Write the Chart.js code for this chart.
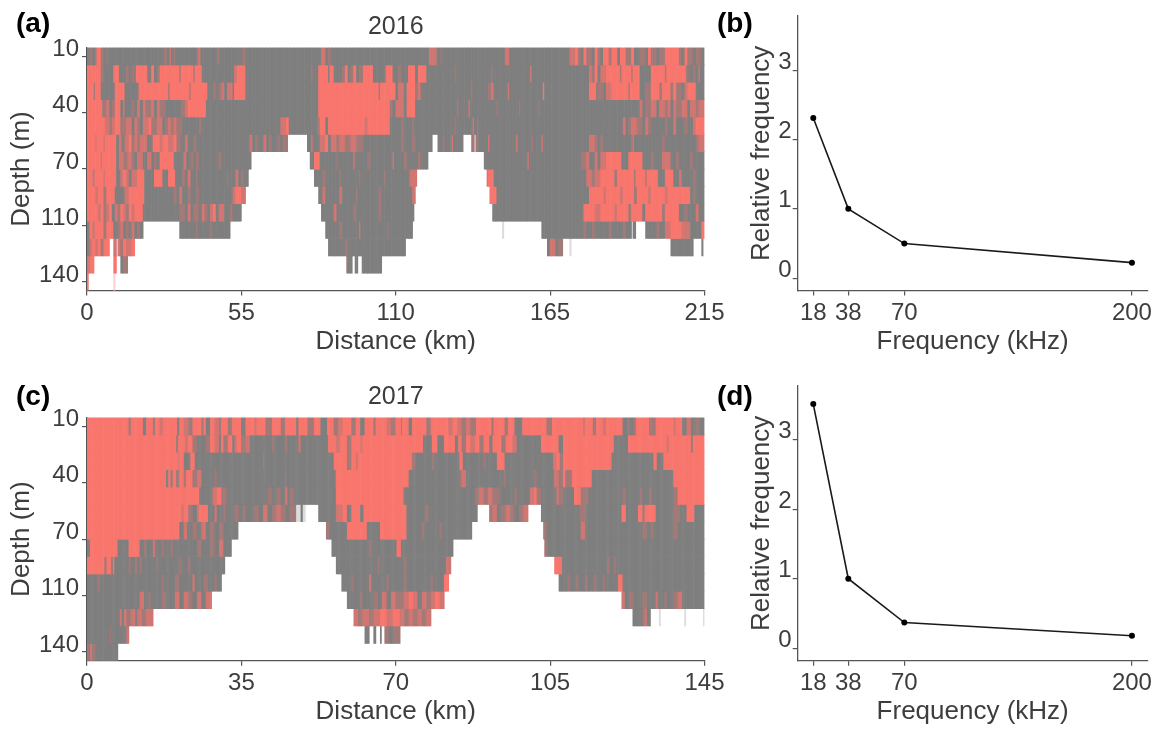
<!DOCTYPE html>
<html><head><meta charset="utf-8">
<script src="https://cdn.jsdelivr.net/npm/chart.js@4/dist/chart.umd.js"></script>
<style>
html,body{margin:0;padding:0;background:#fff;width:1162px;height:731px;overflow:hidden}
canvas{position:absolute;display:block;filter:blur(0.35px)}
.tag{position:absolute;font:bold 28px "Liberation Sans",Arial,sans-serif;color:#000;line-height:32px}
</style></head><body>
<canvas id="pa" width="745" height="365" style="left:0;top:0;width:745px;height:365px"></canvas>
<canvas id="pb" width="442" height="365" style="left:720px;top:0;width:442px;height:365px"></canvas>
<canvas id="pc" width="745" height="361" style="left:0;top:370px;width:745px;height:361px"></canvas>
<canvas id="pd" width="442" height="361" style="left:720px;top:370px;width:442px;height:361px"></canvas>
<div class="tag" style="left:16px;top:7px">(a)</div>
<div class="tag" style="left:717px;top:7px">(b)</div>
<div class="tag" style="left:16px;top:380px">(c)</div>
<div class="tag" style="left:717px;top:380px">(d)</div>
<script>
// Class codes for echogram cells
const G=0,M=1,H=2,R=3,N=4,K=5,P=6;
const classColours=['#7f7f7f','#a27a78','#d27672','#f8766d',null,'#dcdcdc','#f9d3d0'];

// Each row: [start distance, class, start distance, class, ...]
const a00=[0,G,1,M,2,G,3,M,3.5,R,5,M,6,G,7,M,7.5,G,27.5,M,28.5,G,29.5,H,30,G,31,M,31.5,G,39.5,H,40.5,G,46.5,M,47.5,G,55.5,M,56.5,G,83.5,H,85,G,86,M,87,G,122,H,124.5,M,125,G,126,M,126.5,G,149,H,150.5,G,172,H,174,R,175,M,176,G,177,R,178,M,180,G,181,R,182,M,183,G,184,R,186,M,187,R,189,G,190,R,192,M,194,R,195,G,197,M,199,G,200,R,201,M,203,G,204,M,206,R,211,M,212,G,213,R,214,M,216,G,217,M,219,G,220,N];
const a01=[0,R,5,M,6,G,9.5,R,11.5,G,14,M,15,G,16,M,17,G,17.7,R,21.3,M,22,G,23,R,24,G,25,M,26,R,33,M,33.5,R,38,M,38.5,R,41,G,52.7,H,53.5,R,56.5,G,80,M,80.5,G,82.4,R,86,G,86.5,R,88,G,91,M,92,R,93,G,94,M,95,R,96,G,97,M,98.5,R,102,G,106.5,R,109,G,111,M,112,G,114.5,R,117,G,118,R,121,G,131,M,131.5,G,144,M,144.5,G,158,H,158.5,G,179,H,180,M,181,R,182,G,183,H,185,R,190,M,190.5,R,194,M,194.5,R,197,G,201,R,206,M,206.5,R,213.7,M,214.5,G,216,M,217,G,218,H,218.5,G,220,N];
const a02=[0,R,2.5,M,3,R,5,G,10,R,13.5,G,18.3,R,29,M,29.5,R,36.5,M,37,R,43.2,G,45,M,46,G,46.8,M,48,H,49,G,50,H,52,G,52.5,R,56.3,G,82.4,R,103.8,M,104.3,R,109.8,G,111,H,113,G,114,R,117,M,118,H,119,G,137,M,137.5,G,143,M,144,H,145,G,150,H,150.5,G,162.3,R,162.8,G,179,R,181.3,G,182,M,184,G,185,H,187,R,193,M,193.5,R,197,G,199,M,201,R,204,M,205,R,208,M,209,R,210,M,212,G,213,H,214,R,217,G,220,N];
const a03=[0,R,5.6,M,7,H,8,G,9,M,10,R,11.8,G,13,H,13.5,G,16,M,17,G,18,H,19,G,20,H,21,M,23,H,24,G,25,H,26,M,28,G,33.7,M,35,H,36,R,42.6,G,82.4,R,108,M,109,G,110,H,113,G,114,R,117,G,132,M,132.5,G,136,H,136.5,G,146,M,146.5,G,154,M,154.5,G,161,M,161.5,G,197,H,198,G,199,M,201,H,203,G,204,H,206,M,207,H,208,G,209,H,210,M,212,H,214,G,215,H,217,M,218,H,220,N];
const a04=[0,R,6.4,H,8,M,9,H,10,R,12,M,14,H,16,G,17,H,18,M,19,G,20,H,22,R,23,M,25,H,27,G,28,M,29,H,30,M,31,H,32,M,34,G,40,M,41,G,69,H,71,R,72,G,82,M,83,R,85,G,86,R,99,H,100,R,108,G,112,M,113,G,116,M,116.5,G,131,M,131.5,G,137.5,H,138,G,139,M,139.5,G,191,H,192,G,193,M,194,H,196,M,198,G,199,H,200,M,201,G,206,M,207,G,209,H,210,G,213,M,214,G,216,H,217,R,220,N];
const a05=[0,R,3,H,3.5,R,6,H,6.5,R,10.6,G,11.5,H,12.5,G,13.5,H,15,R,16,M,17,H,18,M,19,H,21.3,G,23.6,R,26,H,27,R,29,H,31,R,32,M,33.7,G,35,H,36,G,38,M,39,G,58,H,59,G,60,M,61,G,63,H,64,G,65,M,66,G,68,M,69,G,70,M,71.7,N,78.3,G,80,H,80.5,G,83,H,85,R,86,G,87,H,89,M,90,H,92,M,94,H,96,M,98.5,G,112,M,113,G,116,M,117,G,123,N,124.8,G,127,M,127.5,G,130,H,130.5,G,133.9,N,137,M,138,N,138.5,M,139.5,G,143,H,143.5,G,153,H,153.5,G,158.5,M,159,G,162,H,162.5,G,179,H,181,M,182,G,183,M,184,G,194,M,194.5,H,195,G,205,M,206,G,217,M,218,H,220,N];
const a06=[0,R,5,H,5.5,R,10.6,G,11.5,H,13,M,14.5,H,16,M,17,G,18,H,20,G,21.3,H,23,G,24,M,25,G,26,R,31,G,34.5,H,35.5,G,37,M,38,G,39,M,40,G,47,M,48,G,58.7,N,79.5,G,81,R,83,G,89,M,89.5,G,95,H,95.5,G,100,M,101,G,109,H,109.5,G,113,M,114,G,118,M,119,G,121.5,N,141.4,G,157,H,157.5,G,176,M,178,H,179,G,181,H,182,G,183,H,185,R,190.4,G,193,R,198,G,201,M,202,G,205,H,208,G,210,M,211,G,215,M,216,G,220,N];
const a07=[0,R,2,H,3,R,6,H,6.5,R,10.6,G,12,H,13,R,14,H,15,G,16,H,18,R,20.7,G,24.2,R,27.2,G,29,R,31.4,G,34,M,35,G,36,H,37,G,39,M,39.7,G,49.8,M,50.5,G,53,H,54,G,55,M,56,G,57.5,N,81.2,G,84,M,85,G,90,M,90.5,G,97,M,97.5,G,106,M,106.5,G,115,H,117.7,N,142.6,H,143,R,145,G,178,H,180,M,181,H,183,R,188,M,189,R,195,M,195.5,R,199,M,199.5,R,203.6,G,206,R,209,G,211,H,212,G,216,M,217,G,220,N];
const a08=[0,R,3,H,4,R,6,M,7,R,10,G,13.5,H,15,R,20.7,G,31,M,32,G,33,H,34,G,36,M,37,G,39,M,40,G,52,H,53,R,55,H,56.3,N,82.4,G,84,H,85,G,90,H,91,G,96,M,96.5,G,104,M,105,G,116,H,117.2,N,143.6,R,146,G,179,R,184,H,185,R,190,H,191,R,195,M,196,R,200,H,201,R,206,H,207,R,214.8,G,216,M,217,G,220,N];
const a09=[0,R,4,H,5,R,6,M,7,H,8,R,9,G,10,H,11,M,12,R,13,H,14,M,15,R,16,H,17,R,20,G,33,M,35,G,36,H,37,G,38,M,40,G,41,H,42,M,43,G,44,H,45,R,46,G,47,H,49,G,51,M,52,G,55,N,83.6,G,88,H,89,G,95,M,96,G,104,M,105,G,116.5,N,144.4,G,177,R,181,H,183,R,188,H,189,R,193,M,194,R,198,G,199,R,205,M,206,R,211,G,213,M,214,G,217,H,218,G,220,N];
const a10=[0,G,1,R,2,H,3,R,6,M,7,R,9.4,G,11,M,12,H,13,G,14,M,15,G,16,H,17,G,18,M,19,G,20,N,33,G,39,M,39.5,G,44,M,44.5,G,51,N,84.8,G,90,M,91,G,97,H,97.5,G,107,M,107.5,G,116,N,148,K,148.5,N,161.9,G,176.9,M,178,G,180,M,181,G,186,M,187,G,191,M,192,G,194,N,194.5,G,195.5,N,199,G,203,M,204,G,206,H,208,R,212,H,214.8,G,219,R,220,N];
const a11=[0,G,1,H,2,R,3,H,4,R,5,M,6,R,8,N,9.4,H,10.5,N,11,H,12,M,13,R,14,H,16,R,17,N,86,G,92,M,93,G,113.7,N,164,G,165,H,167,G,168,M,169.7,N,172,K,172.5,N,208,G,216,N,219,G,219.5,N,220,N];
const a12=[0,H,1,R,2.3,N,9.4,R,10.6,N,12,G,13,M,14.7,N,92.3,M,93,G,94.3,N,95.5,G,96.3,N,97.9,G,105,N,220,N];
const a13=[0,R,0.5,N,9.5,P,10,N,220,N];

const c00=[0,R,9.4,M,9.9,R,12.8,G,13.6,R,15,M,15.5,R,16.5,H,17.2,R,20.5,G,21,R,22,H,23,M,24,R,26,M,26.5,R,27,G,28,R,29,H,30,M,30.5,R,32,M,33,R,35,G,36,R,38,H,38.5,R,40.5,M,42,R,44,M,45,R,47.5,G,48,R,50,M,51.5,R,53,G,54.5,R,56,M,57,H,58,R,60,M,61,R,62,G,63,R,65,M,65.5,R,68,H,69,M,70,R,71.2,M,71.6,R,73,G,73.8,R,77,M,78,R,82,H,83,R,84,H,85,M,86,H,87,M,88.3,R,91.8,M,92.3,R,94.8,M,95.5,R,96.9,G,98.8,R,104.2,M,105.5,R,112.5,H,113,R,114.8,M,115.6,R,117,H,117.8,R,121.6,G,122.5,M,123,G,124,M,124.6,R,127.5,M,129,R,133,H,133.5,R,135,G,136,H,137,G,138,M,139,G,140,N];
const c01=[0,R,20.3,M,20.7,R,22.3,H,23,R,24,M,25,G,27,M,28,R,29,H,30,G,30.5,R,31,M,32,R,33,G,33.5,H,34,R,35,M,36,H,37,G,42,M,42.5,G,45,M,45.5,G,48,H,48.5,G,54.7,R,56.6,H,57.5,R,59,M,60,R,62,H,62.5,R,76.3,G,78.3,R,79.4,G,81.1,R,83.4,G,84.2,R,85,M,86,R,87,H,88,R,89,M,90,R,91.3,G,92,R,94,M,95,R,96.6,H,97.5,G,103,R,106.9,G,108,R,119.4,G,122.7,R,131.5,H,132,R,137,M,137.5,R,140,N];
const c02=[0,R,20.7,H,21,R,22,G,23.4,R,24.5,G,40,M,40.3,G,55.9,R,58.9,M,60,R,61,H,61.5,R,73.8,M,74.5,G,78.3,M,78.7,G,84.5,R,85.3,G,90,M,90.5,G,92.9,R,94.8,G,105.7,H,106.5,R,107.3,M,108,R,119,G,128.4,R,129.2,G,130.7,R,140,N];
const c03=[0,R,18,G,18.4,R,19,M,19.6,R,20.3,M,21,R,22,M,22.5,R,24,M,25,H,26,G,29,M,29.5,G,45,M,45.3,G,56.2,M,56.6,R,73,G,84.5,M,85,H,86,G,94.4,M,95,G,101.5,M,102,G,106,H,107,M,108,R,108.5,M,110,R,114.4,G,133,R,140,N];
const c04=[0,R,25.6,G,28.6,H,29.5,R,30.5,M,31.7,G,41,M,42,G,43,M,44,G,45,H,45.5,G,46,M,47,G,56.6,R,71.7,M,72,G,88,M,89,H,90,M,91,H,92,M,93.6,G,97,M,97.4,G,100.5,H,101.5,R,102,M,103.1,G,106.5,H,107,M,108,G,110.6,R,112.1,M,113.7,G,121.6,M,122.3,G,125.5,M,126,G,127.5,M,127.9,G,133,M,134,R,140,N];
const c05=[0,R,21.5,H,22,R,23,M,24,G,24.9,H,25.5,R,27.5,G,29,H,29.5,G,31,M,31.5,G,33.6,M,34.5,G,35.5,M,36,G,38,M,39,G,40,H,41,G,42,M,43,H,44,M,45,G,46,M,47.5,K,48.5,G,49,K,49.4,N,52.5,G,56.6,H,58,R,59,G,60,R,62,G,62.7,R,72.4,G,76.8,M,77.4,G,88.6,N,91.3,M,92,H,93,G,94,M,95,H,96,M,97,G,98,M,99,H,100,N,103.1,G,111.7,M,113.3,G,121.2,R,122.3,G,125,R,126,M,126.5,R,129.1,G,133,M,134.5,G,135.9,R,137.8,G,140,N];
const c06=[0,R,21,G,22,H,22.7,G,24,M,25,G,26,H,27,G,28,M,29,G,30,M,31,G,34.3,N,54.3,M,55,G,59,R,63.4,G,66.4,R,72.4,G,76,M,76.5,G,80,M,80.5,G,87.2,N,103.5,M,104.3,G,112,H,113,G,126,M,127,G,128,M,128.5,G,133,M,134,G,140,N];
const c07=[0,G,0.7,R,7.1,G,9.5,R,12,G,13,M,13.5,G,15,H,15.5,G,17,M,17.5,G,19,M,19.6,G,25,M,26,G,28,M,29,G,30,H,31,G,32.8,N,55.5,G,64,M,64.5,G,70.2,R,71.3,G,83,N,103.8,M,104.5,G,140,N];
const c08=[0,R,4,M,4.4,R,5.5,M,6,R,6.3,G,9.4,M,10,G,11,M,11.5,G,12,M,12.5,G,16,M,16.3,G,21,M,21.5,G,23,M,23.5,G,31.3,N,56.6,G,66,M,66.5,G,72,M,72.4,G,81.5,H,82.6,N,106,R,107.8,G,118,M,118.5,G,119.5,M,120,G,140,N];
const c09=[0,G,2.5,M,3,G,17,M,17.5,G,20,M,21,G,24,H,24.5,G,26.5,M,27.5,G,29,M,29.5,G,30.5,N,57.7,G,60,M,60.5,G,64,H,64.5,G,68,M,68.5,G,72,M,72.5,G,78,M,78.5,G,81,R,82,N,107,G,109,M,109.4,G,111,M,111.4,G,113,M,113.4,G,115,M,115.4,G,117,M,117.4,G,120.5,R,121.6,G,140,N];
const c10=[0,G,12,H,13,G,14,M,14.5,G,17,M,18,G,20,H,21,G,22,H,23,M,24,G,25,H,26,G,27,H,28.3,N,58.9,G,62,M,62.5,G,65,M,66,G,67,H,68,G,69,H,70,M,72,H,73,R,74,H,75,G,76,H,77,M,78,H,79,R,80,H,81.1,N,121.2,H,122,G,123,M,124,G,126,M,127,G,129,H,129.5,G,131,M,131.5,G,133,M,134,H,135,G,140,N];
const c11=[0,G,7.5,H,8,G,8.5,H,9,M,10,H,11,G,11.5,H,12.5,M,13.5,H,15,N,60.5,H,61.5,M,62.5,H,64,M,65,H,66.5,R,68,H,69.5,R,71,H,72,M,73,H,74,M,75,H,76,M,77,H,78,N,123.8,G,126,M,126.5,H,127,G,127.8,N,129.7,K,130,N,135.5,K,135.8,N,139.7,K,140,N];
const c12=[0,G,5.2,M,5.6,G,9,H,9.5,N,63,G,64,N,64.9,G,65.5,N,66.4,G,66.8,N,67.5,M,68.5,G,69.5,M,70.9,N,140,N];
const c13=[0,M,0.4,G,0.8,H,1.2,G,1.5,M,2,G,6.9,N,140,N];

const rowsA=[a00,a01,a02,a03,a04,a05,a06,a07,a08,a09,a10,a11,a12,a13];
const rowsC=[c00,c01,c02,c03,c04,c05,c06,c07,c08,c09,c10,c11,c12,c13];

const depthTickPos=[0.5,3.75,7,10.25,13.5];
const depthLabels=['10','40','70','110','140'];
const distTicksA=[0,55,110,165,220];
const distLabelsA=['0','55','110','165','215'];
const distTicksC=[0,35,70,105,140];
const distLabelsC=['0','35','70','105','145'];

const freq=[18,38,70,200];
const relB=[2.31,1.0,0.5,0.225];
const relD=[3.51,1.0,0.37,0.18];
const relTicks=[0,1,2,3];

const FF='"Liberation Sans",Arial,sans-serif';
const TXT='#3d3d3d',AX='#555555';
const TICKF=24,TITLEF=26;
Chart.defaults.font.family=FF;
Chart.defaults.animation=false;

function expand(row,r,bin,total){
  const data=[],bg=[];
  let j=0;
  for(let c=bin/2;c<total;c+=bin){
    while(j+2<row.length&&row[j+2]<=c)j+=2;
    const col=classColours[row[j+1]];
    if(col){data.push({x:c,y:[r,r+1]});bg.push(col);}
  }
  return {data,backgroundColor:bg,borderWidth:0,grouped:false,barPercentage:1,categoryPercentage:1};
}
function axis(opts){
  return Object.assign({
    border:{display:true,color:AX,width:1.3},
    grid:{display:true,offset:false,drawOnChartArea:false,drawTicks:true,tickLength:5,color:AX,lineWidth:1.2},
  },opts);
}
function fixedTicks(vals,labs,fs,extra){
  return {
    afterBuildTicks:s=>{s.ticks=vals.map(v=>({value:v}));},
    ticks:Object.assign({autoSkip:false,maxRotation:0,minRotation:0,padding:3,color:TXT,font:{size:fs},
      callback:v=>labs[vals.indexOf(v)]},extra||{})
  };
}
function fitX(s){s.height=67;s.paddingLeft=0;s.paddingRight=0;}
function echogram(id,rows,bin,total,ticks,labels,year,padBottom){
  const ds=rows.map((row,r)=>expand(row,r,bin,total));
  new Chart(document.getElementById(id),{
    type:'bar',
    data:{datasets:ds},
    options:{
      responsive:false,animation:false,
      layout:{padding:{left:6,right:40.5,top:0,bottom:padBottom}},
      plugins:{legend:{display:false},tooltip:{enabled:false},
        title:{display:true,text:year,fullSize:false,color:TXT,font:{size:25,weight:'normal'},padding:{top:12,bottom:5.5}}},
      scales:{
        x:axis(Object.assign({type:'linear',offset:false,min:0,max:total,stacked:false,
          title:{display:true,text:'Distance (km)',color:TXT,font:{size:TITLEF},padding:0},
          afterFit:fitX},fixedTicks(ticks,labels,TICKF))),
        y:axis(Object.assign({type:'linear',reverse:true,min:0,max:14,
          title:{display:true,text:'Depth (m)',color:TXT,font:{size:TITLEF},padding:0},
          afterFit:s=>{s.width=81;s.paddingTop=0;s.paddingBottom=0;}},fixedTicks(depthTickPos,depthLabels,TICKF,{labelOffset:-7})))
      }
    }
  });
}
function freqChart(id,vals,yMin,yMax,padBottom){
  new Chart(document.getElementById(id),{
    type:'line',
    data:{datasets:[{data:freq.map((f,i)=>({x:f,y:vals[i]})),borderColor:'#1a1a1a',backgroundColor:'#000',
      borderWidth:1.6,pointRadius:3,pointBackgroundColor:'#000',pointBorderWidth:0,tension:0}]},
    options:{
      responsive:false,animation:false,
      layout:{padding:{left:26,right:14.3,top:16,bottom:padBottom}},
      plugins:{legend:{display:false},tooltip:{enabled:false},title:{display:false}},
      scales:{
        x:axis(Object.assign({type:'linear',min:9.1,max:209,
          title:{display:true,text:'Frequency (kHz)',color:TXT,font:{size:TITLEF},padding:0},
          afterFit:fitX},fixedTicks(freq,freq.map(String),TICKF))),
        y:axis(Object.assign({type:'linear',min:yMin,max:yMax,
          title:{display:true,text:'Relative frequency',color:TXT,font:{size:TITLEF},padding:0},
          afterFit:s=>{s.width=51.7;s.paddingTop=0;s.paddingBottom=0;}},fixedTicks(relTicks,relTicks.map(String),TICKF,{labelOffset:-8,padding:1})))
      }
    }
  });
}
echogram('pa',rowsA,0.5,220,distTicksA,distLabelsA,'2016',7.4);
echogram('pc',rowsC,0.25,140,distTicksC,distLabelsC,'2017',3.3);
freqChart('pb',relB,-0.178,3.78,7.4);
freqChart('pd',relD,-0.178,3.77,3.3);
</script>
</body></html>
